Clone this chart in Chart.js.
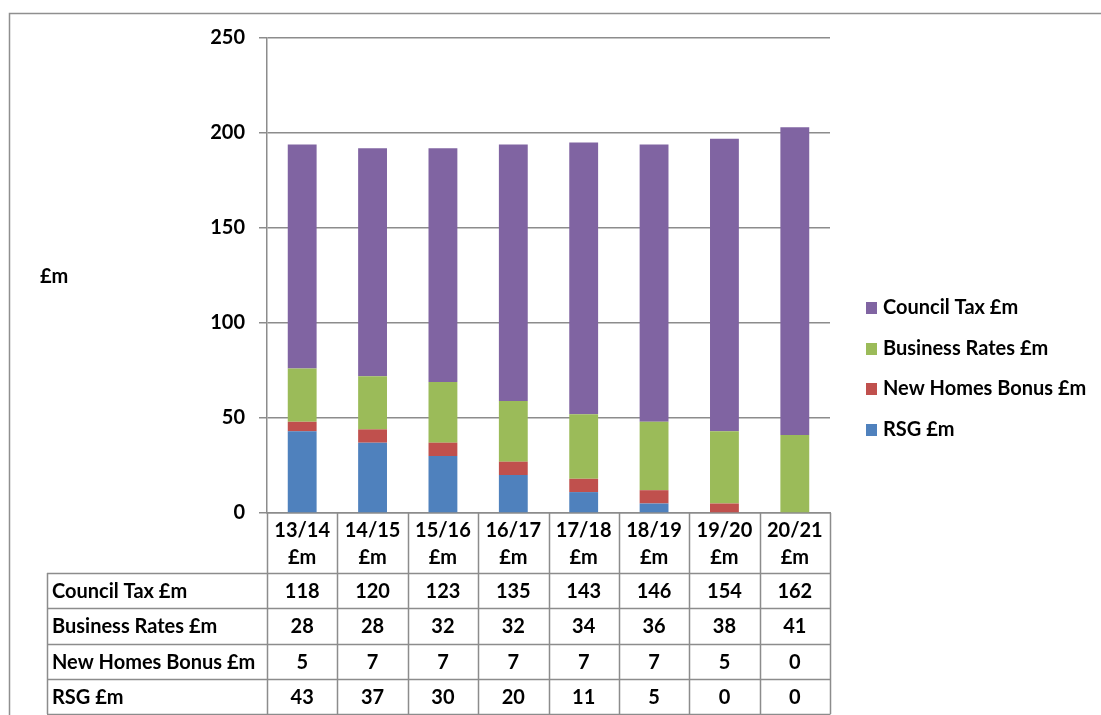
<!DOCTYPE html>
<html>
<head>
<meta charset="utf-8">
<script src="https://cdn.jsdelivr.net/npm/chart.js@4/dist/chart.umd.min.js"></script>
<style>
  html, body { margin: 0; padding: 0; background: #fff; }
</style>
</head>
<body>
<canvas id="chart" width="1101" height="715"></canvas>
<script>
const years = ['13/14', '14/15', '15/16', '16/17', '17/18', '18/19', '19/20', '20/21'];
const unit = '£m';

const councilTax = [118, 120, 123, 135, 143, 146, 154, 162];
const businessRates = [28, 28, 32, 32, 34, 36, 38, 41];
const newHomesBonus = [5, 7, 7, 7, 7, 7, 5, 0];
const rsg = [43, 37, 30, 20, 11, 5, 0, 0];

const yTicks = [0, 50, 100, 150, 200, 250];

const FONT = 'Lato, "Open Sans", sans-serif';
const FSIZE = 20;
const GRID = '#8c8c8c';

// table rows, top to bottom (same order as the legend)
const tableRows = [
  { label: 'Council Tax £m', values: councilTax, color: '#8064A2' },
  { label: 'Business Rates £m', values: businessRates, color: '#9BBB59' },
  { label: 'New Homes Bonus £m', values: newHomesBonus, color: '#C0504D' },
  { label: 'RSG £m', values: rsg, color: '#4F81BD' },
];

const tablePlugin = {
  id: 'dataTable',
  afterDraw(chart) {
    const { ctx, chartArea } = chart;
    const xScale = chart.scales.x;
    const left = chartArea.left;
    const colW = (chartArea.right - chartArea.left) / years.length;
    const xs = years.map((_, i) => left + i * colW).concat(chartArea.right);
    const top = chartArea.bottom;
    const headerBottom = 573;
    const rowH = 35.25;
    const tableLeft = 47;

    ctx.save();

    // outer frame
    ctx.strokeStyle = '#8f8f8f';
    ctx.lineWidth = 1.5;
    ctx.beginPath();
    ctx.moveTo(9.5, 716);
    ctx.lineTo(9.5, 13.5);
    ctx.lineTo(1102, 13.5);
    ctx.stroke();

    ctx.strokeStyle = GRID;
    ctx.lineWidth = 1.5;
    ctx.beginPath();
    // column lines
    xs.forEach((x) => {
      ctx.moveTo(Math.round(x) + 0.5, top);
      ctx.lineTo(Math.round(x) + 0.5, headerBottom + rowH * tableRows.length);
    });
    // row lines
    for (let r = 0; r <= tableRows.length; r++) {
      const y = Math.round(headerBottom + r * rowH) + 0.5;
      ctx.moveTo(tableLeft, y);
      ctx.lineTo(chartArea.right + 0.5, y);
    }
    ctx.moveTo(tableLeft + 0.5, headerBottom);
    ctx.lineTo(tableLeft + 0.5, headerBottom + rowH * tableRows.length);
    ctx.stroke();

    ctx.fillStyle = '#000';
    ctx.font = 'bold ' + FSIZE + 'px ' + FONT;
    ctx.textBaseline = 'middle';

    // header labels
    ctx.textAlign = 'center';
    years.forEach((yr, i) => {
      const cx = xScale.getPixelForValue(i);
      ctx.fillText(yr, cx, 531);
      ctx.fillText(unit, cx, 558);
    });

    // body
    tableRows.forEach((row, r) => {
      const cy = headerBottom + r * rowH + rowH / 2 + 1;
      ctx.textAlign = 'left';
      ctx.fillText(row.label, 52, cy);
      ctx.textAlign = 'center';
      row.values.forEach((v, i) => {
        ctx.fillText(String(v), xScale.getPixelForValue(i), cy);
      });
    });

    // legend
    const legendY = [308, 349, 389, 430];
    tableRows.forEach((row, r) => {
      ctx.fillStyle = row.color;
      ctx.fillRect(866, legendY[r] - 6, 11, 12);
      ctx.fillStyle = '#000';
      ctx.textAlign = 'left';
      ctx.fillText(row.label, 883, legendY[r]);
    });

    // y axis title
    ctx.fillText(unit, 40, 277);

    ctx.restore();
  },
};

new Chart(document.getElementById('chart'), {
  type: 'bar',
  data: {
    labels: years,
    datasets: [
      { label: 'RSG £m', data: rsg, backgroundColor: '#4F81BD' },
      { label: 'New Homes Bonus £m', data: newHomesBonus, backgroundColor: '#C0504D' },
      { label: 'Business Rates £m', data: businessRates, backgroundColor: '#9BBB59' },
      { label: 'Council Tax £m', data: councilTax, backgroundColor: '#8064A2' },
    ],
  },
  options: {
    responsive: false,
    animation: false,
    layout: { padding: { left: 0, top: 38, right: 271, bottom: 202 } },
    datasets: {
      bar: { categoryPercentage: 1, barPercentage: 0.41, borderWidth: 0 },
    },
    plugins: {
      legend: { display: false },
      tooltip: { enabled: false },
    },
    scales: {
      x: {
        stacked: true,
        grid: { display: false },
        border: { display: true, color: GRID, width: 1.5 },
        ticks: { display: false },
        afterFit: (s) => { s.height = 0; },
      },
      y: {
        stacked: true,
        min: 0,
        max: 250,
        afterBuildTicks: (s) => { s.ticks = yTicks.map((v) => ({ value: v })); },
        grid: { color: GRID, lineWidth: 1.5, tickLength: 8 },
        border: { display: true, color: GRID, width: 1.5 },
        ticks: {
          padding: 14,
          color: '#000',
          font: { family: FONT, size: FSIZE, weight: 'bold' },
        },
        afterFit: (s) => { s.width = 267; },
      },
    },
  },
  plugins: [tablePlugin],
});
</script>
</body>
</html>
